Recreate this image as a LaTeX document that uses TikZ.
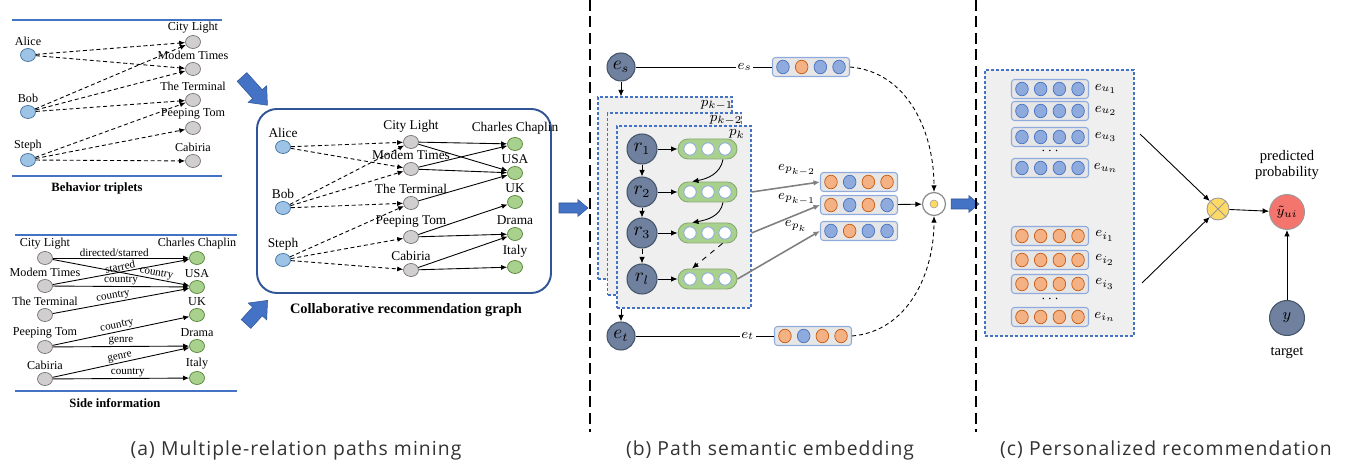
\documentclass[tikz,border=0pt]{standalone}
\usepackage{fontspec}
\setmainfont{Liberation Serif}
\newfontfamily\capfont[LetterSpace=5.5]{Open Sans}
\usetikzlibrary{arrows.meta, shapes.geometric, calc}

\definecolor{userfill}{HTML}{9DC3E6}
\definecolor{userdraw}{HTML}{41719C}
\definecolor{itemfill}{HTML}{D0CECE}
\definecolor{itemdraw}{HTML}{767171}
\definecolor{attrfill}{HTML}{A9D18E}
\definecolor{attrdraw}{HTML}{548235}
\definecolor{ruleblue}{HTML}{4472C4}
\definecolor{frameblue}{HTML}{2F5597}
\definecolor{slatefill}{HTML}{6F819E}
\definecolor{slatedraw}{HTML}{44546A}
\definecolor{dotbfill}{HTML}{8FAADC}
\definecolor{dotbdraw}{HTML}{4472C4}
\definecolor{dotofill}{HTML}{F4B183}
\definecolor{dotodraw}{HTML}{C55A11}
\definecolor{vecfill}{HTML}{E7E6E6}
\definecolor{vecdraw}{HTML}{8FAADC}
\definecolor{panelfill}{HTML}{EFEFEF}
\definecolor{multfill}{HTML}{FFD966}
\definecolor{predfill}{HTML}{F4756E}
\definecolor{captext}{HTML}{333333}

\tikzset{
  % graph vertices
  vtx/.style={ellipse, minimum width=3mm, minimum height=2.6mm, inner sep=0pt, line width=0.4pt},
  user/.style={vtx, draw=userdraw, fill=userfill},
  item/.style={vtx, draw=itemdraw, fill=itemfill},
  attr/.style={vtx, draw=attrdraw, fill=attrfill},
  vname/.style={font=\fontsize{6.9}{7}\selectfont, inner sep=0pt, label distance=0.4mm},
  cname/.style={font=\fontsize{7.6}{8}\selectfont, inner sep=0pt, label distance=0.4mm},
  rname/.style={font=\fontsize{6.3}{7}\selectfont, sloped, above, inner sep=0.5pt},
  gtitle/.style={font=\fontsize{7.2}{8}\selectfont\bfseries},
  interact/.style={->, >={Latex[length=1.2mm,width=1mm]}, dash pattern=on 0.8mm off 0.55mm, line width=0.5pt},
  relation/.style={->, >={Latex[length=1.2mm,width=1mm]}, line width=0.5pt},
  hrule/.style={draw=ruleblue, line width=0.6pt},
  % block arrows between the stages
  flow/.style={fill=ruleblue, draw=frameblue, line width=0.3pt},
  % path embedding parts
  ent/.style={circle, draw=slatedraw, fill=slatefill, line width=0.6pt, minimum size=5.6mm,
              inner sep=0pt, font=\fontsize{10.5}{10}\selectfont},
  rel/.style={ent, minimum size=6mm},
  cell/.style={rectangle, rounded corners=2mm, draw=attrdraw!70, fill=attrfill,
               minimum width=11.8mm, minimum height=4mm, line width=0.5pt},
  layer/.style={rectangle, draw=ruleblue, fill=panelfill, dash pattern=on 0.6mm off 0.4mm,
                line width=0.6pt, minimum width=26.8mm, minimum height=36.4mm},
  vecbox/.style={rectangle, rounded corners=0.6mm, draw=vecdraw, fill=vecfill, line width=0.6pt,
                 minimum width=15.4mm, minimum height=3.8mm},
  dotb/.style={draw=dotbdraw, fill=dotbfill, line width=0.4pt},
  doto/.style={draw=dotodraw, fill=dotofill, line width=0.4pt},
  arr/.style={->, >={Latex[length=1.3mm,width=1.1mm]}, line width=0.5pt},
  garr/.style={arr, draw=black!50, line width=0.9pt},
  sym/.style={font=\fontsize{8}{8}\selectfont, inner sep=1pt},
  divider/.style={line width=1.1pt, dash pattern=on 2.2mm off 1.1mm},
  caption/.style={font=\capfont\fontsize{11}{12}\selectfont, text=captext},
}

% embedding vector: name, position, dot colours (b/o)
\newcommand{\embvec}[3]{%
  \node[vecbox] (#1) at (#2) {};
  \foreach \dc [count=\i] in {#3}
    \path[dot\dc] ($(#1)+(\i*18.7-46.75,0)$) circle[x radius=6.3, y radius=6.8];
}
% recurrent cell with three hidden units
\newcommand{\lstmcell}[2]{%
  \node[cell] (#1) at (#2) {};
  \foreach \dx in {-17.5,0.5,17.5}
    \draw[draw=vecdraw, fill=white, line width=0.5pt] ($(#1)+(\dx,0)$) circle[radius=6.2];
}
% block arrow: tail, angle, length, shaft half width, head half width
\newcommand{\blockarrow}[5]{%
  \filldraw[flow, shift={(#1)}, rotate=#2]
    (0,-#4) -- (#3-1.2*#5,-#4) -- (#3-1.2*#5,-#5) -- (#3,0) --
    (#3-1.2*#5,#5) -- (#3-1.2*#5,#4) -- (0,#4) -- cycle;
}

\begin{document}
\begin{tikzpicture}[x=0.2mm, y=0.2mm]
\useasboundingbox (0,0) rectangle (1347,-466);

% ── (a) behaviour triplets ───────────────────────────────────────────────
\draw[hrule] (12,-20) -- (222,-20);
\draw[hrule] (12,-176) -- (222,-176);

\node[user, label={[vname]above:Alice}] (alice1) at (28,-55)  {};
\node[user, label={[vname]above:Bob}]   (bob1)   at (28,-112) {};
\node[user, label={[vname]above:Steph}] (steph1) at (28,-160) {};

\node[item, label={[vname]above:City Light}]   (cl1) at (193,-42)  {};
\node[item, label={[vname]above:Modem Times}]  (mt1) at (193,-69)  {};
\node[item, label={[vname]above:The Terminal}] (tt1) at (193,-100) {};
\node[item, label={[vname]above:Peeping Tom}]  (pt1) at (193,-128) {};
\node[item, label={[vname]above:Cabiria}]      (cb1) at (193,-161) {};

\draw[interact] (alice1) -- (cl1);
\draw[interact] (alice1) -- (mt1);
\draw[interact] (bob1)   -- (cl1);
\draw[interact] (bob1)   -- (mt1);
\draw[interact] (bob1)   -- (tt1);
\draw[interact] (steph1) -- (tt1);
\draw[interact] (steph1) -- (pt1);
\draw[interact] (steph1) -- (cb1);

\node[gtitle] (btitle) at (97,-188) {Behavior triplets};

% ── (a) side information ─────────────────────────────────────────────────
\draw[hrule] (15,-235) -- (237,-235);
\draw[hrule] (15,-391) -- (237,-391);

\node[item, label={[vname]above:City Light}]   (cl2) at (45,-258) {};
\node[item, label={[vname]above:Modem Times}]  (mt2) at (45,-286) {};
\node[item, label={[vname]above:The Terminal}] (tt2) at (45,-315) {};
\node[item, label={[vname]above:Peeping Tom}]  (pt2) at (45,-347) {};
\node[item, label={[vname]above:Cabiria}]      (cb2) at (45,-379) {};

\node[attr, label={[vname]above:Charles Chaplin}] (cc2)  at (197,-258) {};
\node[attr, label={[vname]above:USA}]             (usa2) at (197,-287) {};
\node[attr, label={[vname]above:UK}]              (uk2)  at (197,-315) {};
\node[attr, label={[vname]above:Drama}]           (dr2)  at (197,-346) {};
\node[attr, label={[vname]above:Italy}]           (it2)  at (197,-378) {};

\draw[relation] (cl2) -- node[rname, pos=.45] {directed/starred} (cc2);
\draw[relation] (cl2) -- node[rname, pos=.75] {country} (usa2);
\draw[relation] (mt2) -- node[rname, pos=.5]  {starred} (cc2);
\draw[relation] (mt2) -- node[rname, pos=.5]  {country} (usa2);
\draw[relation] (tt2) -- node[rname, pos=.45] {country} (usa2);
\draw[relation] (pt2) -- node[rname, pos=.48] {country} (uk2);
\draw[relation] (pt2) -- node[rname, pos=.5]  {genre} (dr2);
\draw[relation] (cb2) -- node[rname, pos=.5]  {genre} (dr2);
\draw[relation] (cb2) -- node[rname, pos=.55] {country} (it2);

\node[gtitle] (stitle) at (115,-403) {Side information};

% ── (a) collaborative recommendation graph ──────────────────────────────
\node[draw=frameblue, line width=1.1pt, rounded corners=4mm,
      minimum width=58.8mm, minimum height=36.8mm] (cgraph) at (404,-201) {};

\node[user, label={[cname]above:Alice}] (alice3) at (283,-147) {};
\node[user, label={[cname]above:Bob}]   (bob3)   at (283,-208) {};
\node[user, label={[cname]above:Steph}] (steph3) at (283,-260) {};

\node[item, label={[cname]above:City Light}]   (cl3) at (411,-142) {};
\node[item, label={[cname]above:Modem Times}]  (mt3) at (411,-169) {};
\node[item, label={[cname]above:The Terminal}] (tt3) at (411,-203) {};
\node[item, label={[cname]above:Peeping Tom}]  (pt3) at (411,-237) {};
\node[item, label={[cname]above:Cabiria}]      (cb3) at (411,-270) {};

\node[attr, label={[cname]above:Charles Chaplin}] (cc3)  at (515,-144) {};
\node[attr, label={[cname]above:USA}]             (usa3) at (515,-173) {};
\node[attr, label={[cname]above:UK}]              (uk3)  at (515,-202) {};
\node[attr, label={[cname]above:Drama}]           (dr3)  at (515,-234) {};
\node[attr, label={[cname]above:Italy}]           (it3)  at (515,-267) {};

\draw[interact] (alice3) -- (cl3);
\draw[interact] (alice3) -- (mt3);
\draw[interact] (bob3)   -- (cl3);
\draw[interact] (bob3)   -- (mt3);
\draw[interact] (bob3)   -- (tt3);
\draw[interact] (steph3) -- (tt3);
\draw[interact] (steph3) -- (pt3);
\draw[interact] (steph3) -- (cb3);

\draw[relation] (cl3) -- (cc3);
\draw[relation] (cl3) -- (usa3);
\draw[relation] (mt3) -- (cc3);
\draw[relation] (mt3) -- (usa3);
\draw[relation] (tt3) -- (usa3);
\draw[relation] (pt3) -- (uk3);
\draw[relation] (pt3) -- (dr3);
\draw[relation] (cb3) -- (dr3);
\draw[relation] (cb3) -- (it3);

\node[gtitle, font=\fontsize{8.2}{9}\selectfont\bfseries] (ctitle) at (406,-310)
  {Collaborative recommendation graph};

% block arrows
\blockarrow{242,-77}{-48}{38}{6.5}{12.5}
\blockarrow{246,-324}{47.6}{32}{6.5}{12.5}
\blockarrow{559,-208}{0}{29}{5}{8.5}
\blockarrow{951,-204}{0}{28}{5}{8.5}

% stage separators
\draw[divider] (590,0) -- (590,-432);
\draw[divider] (976,0) -- (976,-432);

% ── (b) path semantic embedding ─────────────────────────────────────────
\node[layer] (pkm1) at (665,-188)   {};
\node[layer] (pkm2) at (674.5,-204) {};
\node[layer] (pk)   at (684,-217)   {};
\node[sym, font=\fontsize{8.5}{8}\selectfont] (lpkm1) at (717,-105) {$p_{k-1}$};
\node[sym, font=\fontsize{8.5}{8}\selectfont] (lpkm2) at (726,-120) {$p_{k-2}$};
\node[sym, font=\fontsize{8.5}{8}\selectfont] (lpk)   at (737,-134) {$p_k$};

\node[ent] (es) at (621,-67)  {$e_s$};
\node[ent] (et) at (621,-336) {$e_t$};

\node[rel] (r1) at (642,-149) {$r_1$};
\node[rel] (r2) at (642,-192) {$r_2$};
\node[rel] (r3) at (642,-233) {$r_3$};
\node[rel] (rl) at (642,-279) {$r_l$};

\lstmcell{c1}{707.5,-149}
\lstmcell{c2}{707.5,-192}
\lstmcell{c3}{707.5,-233}
\lstmcell{c4}{707.5,-279}

\draw[arr] (r1) -- (c1);
\draw[arr] (r2) -- (c2);
\draw[arr] (r3) -- (c3);
\draw[arr] (rl) -- (c4);
\draw[arr] (r1) -- (r2);
\draw[arr] (r2) -- (r3);
\draw[arr, dashed] (r3) -- (rl);

\draw[arr] ([xshift=3.1mm]c1.south) to[out=-100, in=10] ([xshift=-3.1mm]c2.north);
\draw[arr] ([xshift=3.1mm]c2.south) to[out=-100, in=10] ([xshift=-3.1mm]c3.north);
\draw[arr, dashed] ([xshift=3mm]c3.south) -- ([xshift=-3.1mm]c4.north);

\draw[arr] (es) -- (pkm1.north -| es);
\draw[arr] (pk.south -| et) -- (et);

\embvec{vs}{811,-67}{b,o,b,b}
\embvec{vt}{813,-336}{o,b,o,o}
\embvec{v1}{859,-182}{o,b,o,o}
\embvec{v2}{859,-205}{o,b,o,b}
\embvec{v3}{859,-231}{b,o,b,b}

\draw[line width=0.5pt] (es) -- node[sym, fill=white, pos=.8] {$e_s$} (vs);
\draw[line width=0.5pt] (et) -- node[sym, fill=white, pos=.81] {$e_t$} (vt);

\draw[garr] (pk.east |- c2) -- (v1.west);
\draw[garr] (pk.east |- c3) -- (v2.west);
\draw[garr] (c4.east) -- (v3.west);
\node[sym] (lep2) at (797,-170) {$e_{p_{k-2}}$};
\node[sym] (lep1) at (797,-199) {$e_{p_{k-1}}$};
\node[sym] (lep0) at (796,-226) {$e_{p_k}$};

\node[circle, draw=black!45, fill=white, line width=0.7pt, minimum size=4.6mm] (odot) at (934,-204) {};
\fill[multfill, draw=black!40, line width=0.3pt] (odot) circle[radius=4];

\draw[arr] (v2) -- (odot);
\draw[arr, dash pattern=on 0.8mm off 0.6mm] (vs.east) to[out=-5, in=90] (odot.north);
\draw[arr, dash pattern=on 0.8mm off 0.6mm] (vt.east) to[out=5, in=-90] (odot.south);

% ── (c) personalized recommendation ─────────────────────────────────────
\node[layer, minimum width=29.8mm, minimum height=53.2mm] (bank) at (1059.5,-203) {};

\embvec{u1}{1050,-89}{b,b,b,b}
\embvec{u2}{1050,-111}{b,b,b,b}
\embvec{u3}{1050,-137}{b,b,b,b}
\embvec{un}{1050,-168}{b,b,b,b}
\embvec{i1}{1050,-236}{o,o,o,o}
\embvec{i2}{1050,-260}{o,o,o,o}
\embvec{i3}{1050,-284}{o,o,o,o}
\embvec{in}{1050,-317}{o,o,o,o}

\node[sym] (lu1) at (1106,-89)  {$e_{u_1}$};
\node[sym] (lu2) at (1106,-111) {$e_{u_2}$};
\node[sym] (lu3) at (1106,-137) {$e_{u_3}$};
\node[sym] (lun) at (1106,-168) {$e_{u_n}$};
\node[sym] (li1) at (1105,-236) {$e_{i_1}$};
\node[sym] (li2) at (1105,-260) {$e_{i_2}$};
\node[sym] (li3) at (1105,-284) {$e_{i_3}$};
\node[sym] (lin) at (1105,-317) {$e_{i_n}$};
\node[sym] (udots) at (1050,-151) {$\cdots$};
\node[sym] (idots) at (1050,-299) {$\cdots$};

\coordinate (ufrom) at (1140,-134);
\coordinate (ifrom) at (1142,-283);
\node[circle, draw=black!40, fill=multfill, line width=0.5pt, minimum size=4.4mm] (mult) at (1218,-209) {};
\draw[black!40, line width=0.5pt] (mult.45) -- (mult.225) (mult.135) -- (mult.-45);
\node[circle, draw=black!40, fill=predfill, line width=0.5pt, minimum size=7mm, sym] (yhat) at (1287,-212) {$\tilde{y}_{ui}$};
\node[ent, minimum size=7mm, font=\fontsize{9}{9}\selectfont] (ytrue) at (1287,-318) {$y$};

\draw[arr] (ufrom) -- (mult);
\draw[arr] (ifrom) -- (mult);
\draw[arr] (mult) -- (yhat);
\draw[arr] (ytrue) -- (yhat);

\node[align=center, font=\fontsize{8.3}{9.5}\selectfont] (predtxt) at (1287,-165) {predicted\\probability};
\node[font=\fontsize{8.3}{9.5}\selectfont] (targettxt) at (1287,-353) {target};

% ── captions ─────────────────────────────────────────────────────────────
\node[caption] (capa) at (296,-450) {(a) Multiple-relation paths mining};
\node[caption] (capb) at (770,-450) {(b) Path semantic embedding};
\node[caption] (capc) at (1166,-450) {(c) Personalized recommendation};

\end{tikzpicture}
\end{document}
